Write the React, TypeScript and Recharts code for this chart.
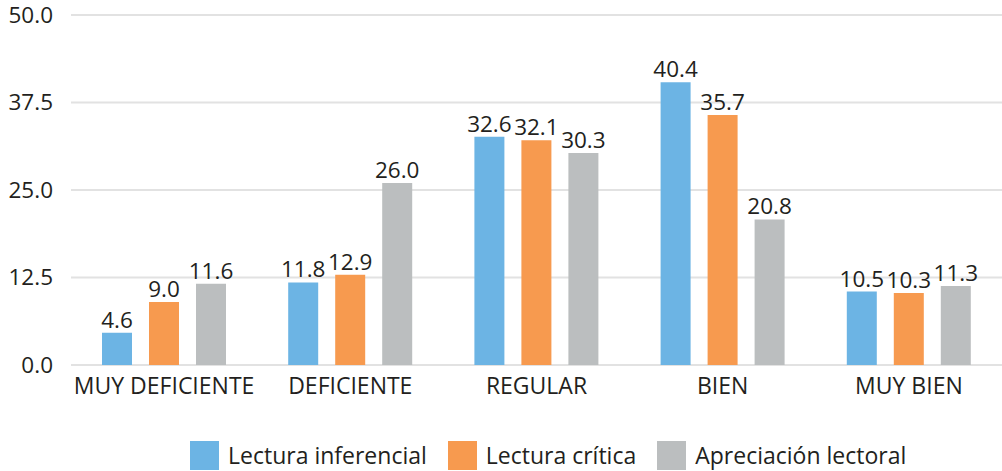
import {
  Bar,
  BarChart,
  CartesianGrid,
  LabelList,
  Legend,
  XAxis,
  YAxis,
} from "recharts";

const CATEGORIES = ["MUY DEFICIENTE", "DEFICIENTE", "REGULAR", "BIEN", "MUY BIEN"];
const INFERENCIAL = [4.6, 11.8, 32.6, 40.4, 10.5];
const CRITICA = [9.0, 12.9, 32.1, 35.7, 10.3];
const APRECIACION = [11.6, 26.0, 30.3, 20.8, 11.3];
const Y_TICKS = [0, 12.5, 25, 37.5, 50];

const SERIES = [
  { key: "inferencial", name: "Lectura inferencial", color: "#6cb4e4" },
  { key: "critica", name: "Lectura crítica", color: "#f79a4f" },
  { key: "apreciacion", name: "Apreciación lectoral", color: "#bbbebf" },
];

const TEXT = "#231f20";
const FONT = "'Open Sans', sans-serif";

const data = CATEGORIES.map((label, i) => ({
  label,
  inferencial: INFERENCIAL[i],
  critica: CRITICA[i],
  apreciacion: APRECIACION[i],
}));

function LegendContent() {
  return (
    <div
      style={{
        display: "flex",
        alignItems: "center",
        height: 30,
        paddingLeft: 190,
        fontFamily: FONT,
        fontSize: 23,
        color: TEXT,
      }}
    >
      {SERIES.map((s) => (
        <div
          key={s.key}
          style={{ display: "flex", alignItems: "center", marginRight: 21 }}
        >
          <span
            style={{
              display: "inline-block",
              width: 29,
              height: 29,
              background: s.color,
              marginRight: 9,
            }}
          />
          <span>{s.name}</span>
        </div>
      ))}
    </div>
  );
}

export default function App() {
  return (
    <div style={{ position: "absolute", left: 0, top: 0, background: "#fff" }}>
      <BarChart
        width={1002}
        height={471}
        data={data}
        margin={{ top: 15, right: 0, bottom: 1, left: 0 }}
        barSize={30}
        barGap={17}
      >
        <CartesianGrid
          vertical={false}
          stroke="#e2e2e2"
          strokeWidth={2}
        />
        <XAxis
          dataKey="label"
          height={75}
          axisLine={false}
          tickLine={false}
          tickSize={0}
          tickMargin={13}
          interval={0}
          tick={{ fill: TEXT, fontSize: 23, fontFamily: FONT }}
        />
        <YAxis
          width={71}
          domain={[0, 50]}
          ticks={Y_TICKS}
          axisLine={false}
          tickLine={false}
          tickSize={0}
          tickMargin={18}
          tickFormatter={(v) => Number(v).toFixed(1)}
          tick={{ fill: TEXT, fontSize: 22.5, fontFamily: FONT }}
        />
        <Legend verticalAlign="bottom" content={LegendContent} />
        {SERIES.map((s) => (
          <Bar
            key={s.key}
            dataKey={s.key}
            name={s.name}
            fill={s.color}
            isAnimationActive={false}
          >
            <LabelList
              dataKey={s.key}
              position="top"
              offset={5}
              formatter={(v) => Number(v).toFixed(1)}
              fill={TEXT}
              fontSize={22.5}
              fontFamily={FONT}
            />
          </Bar>
        ))}
      </BarChart>
    </div>
  );
}
